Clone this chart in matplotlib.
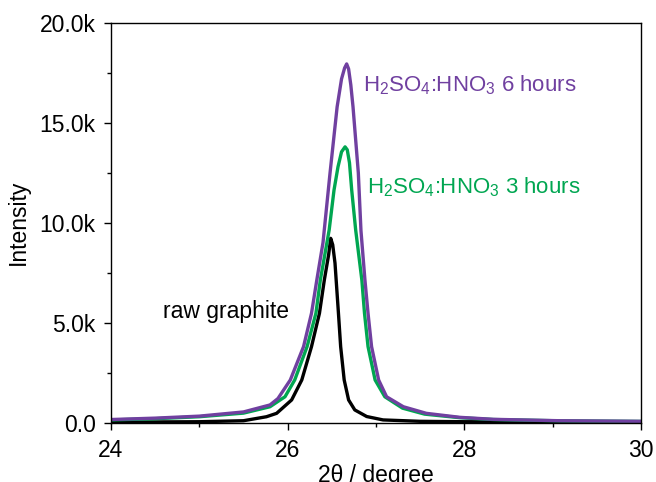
import matplotlib
matplotlib.use('Agg')
import matplotlib.pyplot as plt
from matplotlib.ticker import MultipleLocator, FuncFormatter

plt.rcParams['font.family'] = ['Liberation Sans', 'DejaVu Sans']
plt.rcParams['mathtext.fontset'] = 'custom'
plt.rcParams['mathtext.rm'] = 'Liberation Sans'
plt.rcParams['mathtext.it'] = 'Liberation Sans'

# raw graphite
x_raw = [24.00, 25.00, 25.50, 25.76, 25.875, 26.045, 26.16, 26.27, 26.36, 26.415,
         26.464, 26.487, 26.51, 26.536, 26.575, 26.60, 26.64, 26.69, 26.76, 26.895,
         27.08, 27.50, 28.00, 30.00]
y_raw = [20, 40, 90, 290, 460, 1130, 2130, 3800, 5470, 7130,
         8400, 9220, 8900, 7980, 5470, 3800, 2130, 1130, 630, 300,
         130, 60, 40, 20]

# H2SO4:HNO3 3 hours
x_3h = [24.00, 24.50, 25.00, 25.50, 25.80, 25.97, 26.08, 26.22, 26.32, 26.37,
        26.47, 26.525, 26.57, 26.61, 26.65, 26.675, 26.70, 26.725, 26.77, 26.84,
        26.87, 26.91, 26.99, 27.10, 27.30, 27.55, 27.95, 28.33, 29.08, 30.00]
y_3h = [130, 190, 290, 470, 790, 1290, 2130, 3800, 5470, 7130,
        9640, 11640, 12800, 13550, 13800, 13650, 13000, 11640, 9640, 7130,
        5470, 3800, 2130, 1290, 720, 420, 240, 150, 85, 55]

# H2SO4:HNO3 6 hours
x_6h = [24.00, 24.50, 25.00, 25.50, 25.80, 25.89, 26.03, 26.18, 26.27, 26.33,
        26.40, 26.48, 26.56, 26.61, 26.645, 26.668, 26.69, 26.715, 26.74, 26.80,
        26.83, 26.875, 26.91, 26.95, 27.03, 27.12, 27.31, 27.57, 27.95, 28.33,
        29.08, 30.00]
y_6h = [150, 220, 320, 530, 880, 1200, 2130, 3800, 5470, 7130,
        9000, 12500, 15800, 17200, 17750, 17950, 17700, 16900, 15800, 12500,
        9600, 7130, 5470, 3800, 2130, 1290, 790, 460, 260, 160,
        90, 60]

purple = '#7040A0'
green = '#00A651'

fig = plt.figure(figsize=(6.56, 4.82), dpi=100)
ax = fig.add_axes([0.1692, 0.1234, 0.8079, 0.8289])

ax.plot(x_raw, y_raw, color='black', lw=2.4)
ax.plot(x_3h, y_3h, color=green, lw=2.4)
ax.plot(x_6h, y_6h, color=purple, lw=2.4)

ax.set_xlim(24, 30)
ax.set_ylim(0, 20000)
ax.xaxis.set_major_locator(MultipleLocator(2))
ax.xaxis.set_minor_locator(MultipleLocator(1))
ax.yaxis.set_major_locator(MultipleLocator(5000))
ax.yaxis.set_minor_locator(MultipleLocator(2500))
ax.yaxis.set_major_formatter(FuncFormatter(lambda v, p: '0.0' if v == 0 else f'{v/1000:.1f}k'))

ax.tick_params(which='major', direction='out', length=5, width=1, labelsize=16.5, pad=6)
ax.tick_params(axis='x', which='major', pad=7)
ax.tick_params(which='minor', direction='out', length=2.7, width=1)
for s in ax.spines.values():
    s.set_linewidth(1.0)

ax.set_xlabel('2θ / degree', fontsize=16.5, labelpad=1)
ax.set_ylabel('Intensity', fontsize=16.5, labelpad=7)

ax.text(24.59, 5580, 'raw graphite', fontsize=16.5, va='center', ha='left', color='black')
ax.text(26.85, 16900, r'H$_2$SO$_4$:HNO$_3$ 6 hours', fontsize=16, va='center', ha='left', color=purple)
ax.text(26.90, 11800, r'H$_2$SO$_4$:HNO$_3$ 3 hours', fontsize=16, va='center', ha='left', color=green)

fig.savefig('out.png', dpi=100)
